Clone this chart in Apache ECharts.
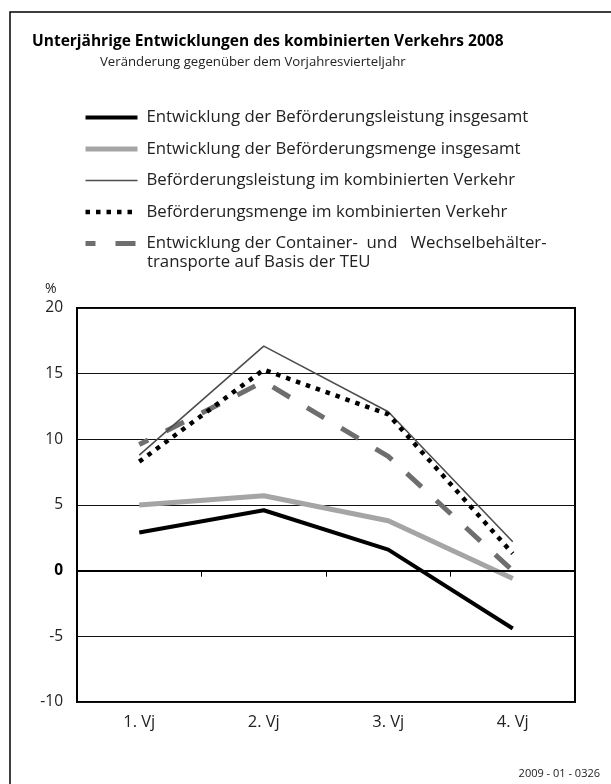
<!DOCTYPE html>
<html><head><meta charset="utf-8">
<script src="https://cdn.jsdelivr.net/npm/echarts@6/dist/echarts.min.js"></script>
<style>html,body{margin:0;padding:0;background:#fff}#c{width:611px;height:784px}</style>
</head><body><div id="c"></div>
<script>
const categories = ['1. Vj', '2. Vj', '3. Vj', '4. Vj'];
const seriesNames = [
  'Entwicklung der Beförderungsleistung insgesamt',
  'Entwicklung der Beförderungsmenge insgesamt',
  'Beförderungsleistung im kombinierten Verkehr',
  'Beförderungsmenge im kombinierten Verkehr',
  'Entwicklung der Container-  und   Wechselbehälter-'
];
const leistungGesamt = [2.9, 4.6, 1.6, -4.4];
const mengeGesamt = [5.0, 5.7, 3.8, -0.6];
const leistungKV = [8.8, 17.1, 12.1, 2.2];
const mengeKV = [8.3, 15.3, 11.9, 1.3];
const teu = [9.6, 14.4, 8.7, 0.0];
const yTicks = [-10, -5, 0, 5, 10, 15, 20];

const FONT = 'Open Sans';
const styles = [
  {color: '#000', width: 4},
  {color: '#a5a5a5', width: 5},
  {color: '#4d4d4d', width: 1.6},
  {color: '#000', width: 4.5, type: [4.5, 6], cap: 'butt'},
  {color: '#6e6e6e', width: 5, type: [20, 20], dashOffset: 10, cap: 'butt'}
];
const chart = echarts.init(document.getElementById('c'), null, {renderer: 'canvas'});
const mk = (i, data, z) => ({
  name: seriesNames[i], type: 'line', data, showSymbol: false, symbol: 'none', z,
  lineStyle: styles[i], itemStyle: {color: styles[i].color}, animation: false
});
chart.setOption({
  animation: false,
  textStyle: {fontFamily: FONT},
  title: [
    {text: 'Unterjährige Entwicklungen des kombinierten Verkehrs 2008', left: 32, top: 34,
     textStyle: {fontFamily: FONT, fontSize: 15.5, fontWeight: 'bold', color: '#000'}, padding: 0},
    {text: 'Veränderung gegenüber dem Vorjahresvierteljahr', left: 100, top: 56,
     textStyle: {fontFamily: FONT, fontSize: 13.2, fontWeight: 'normal', color: '#222'}, padding: 0}
  ],
  legend: {
    orient: 'vertical', left: 83, top: 109, padding: 0,
    itemWidth: 52, itemHeight: 14, itemGap: 14.5,
    data: seriesNames.map((n, i) => ({name: n, itemStyle: {opacity: 0, borderWidth: 0}, lineStyle: styles[i]})),
    textStyle: {fontFamily: FONT, fontSize: 16.8, color: '#222', padding: [0, 0, 0, 4]},
    selectedMode: false
  },
  graphic: [
    {type: 'rect', shape: {x: 10, y: 12, width: 700, height: 900}, style: {fill: 'none', stroke: '#000', lineWidth: 1.5}, silent: true},
    {type: 'text', left: 147, top: 254, style: {text: 'transporte auf Basis der TEU', fontFamily: FONT, fontSize: 16.8, fill: '#222'}},
    {type: 'text', left: 45, top: 282, style: {text: '%', fontFamily: FONT, fontSize: 14, fill: '#222'}},
    {type: 'text', right: 11, top: 768, style: {text: '2009 - 01 - 0326', fontFamily: FONT, fontSize: 11, fill: '#222'}}
  ],
  grid: {left: 77, right: 36, top: 308, bottom: 82, show: true, borderColor: '#000', borderWidth: 2, backgroundColor: 'transparent'},
  xAxis: {
    type: 'category', data: categories, boundaryGap: true,
    axisLine: {lineStyle: {color: '#000', width: 2}},
    axisTick: {show: true, length: 6, lineStyle: {color: '#000', width: 1}},
    axisLabel: {fontFamily: FONT, fontSize: 16.5, color: '#222', margin: 12},
    splitLine: {show: false}
  },
  yAxis: {
    type: 'value', min: yTicks[0], max: yTicks[yTicks.length - 1], interval: 5,
    axisLine: {show: true, lineStyle: {color: '#000', width: 2}},
    axisTick: {show: false},
    splitLine: {show: true, lineStyle: {color: '#111', width: 1}},
    axisLabel: {fontFamily: FONT, fontSize: 15.5, color: '#222', margin: 14,
      formatter: v => v === 0 ? '{b|0}' : String(v),
      rich: {b: {fontFamily: FONT, fontSize: 15.5, fontWeight: 'bold', color: '#000'}}}
  },
  series: [
    Object.assign(mk(0, leistungGesamt, 5), {
      markLine: {silent: true, symbol: 'none', label: {show: false}, animation: false,
        lineStyle: {color: '#000', width: 2, type: 'solid'}, data: [{yAxis: 0}]}
    }),
    mk(1, mengeGesamt, 4),
    mk(2, leistungKV, 3),
    mk(3, mengeKV, 6),
    mk(4, teu, 2)
  ]
});
</script></body></html>
